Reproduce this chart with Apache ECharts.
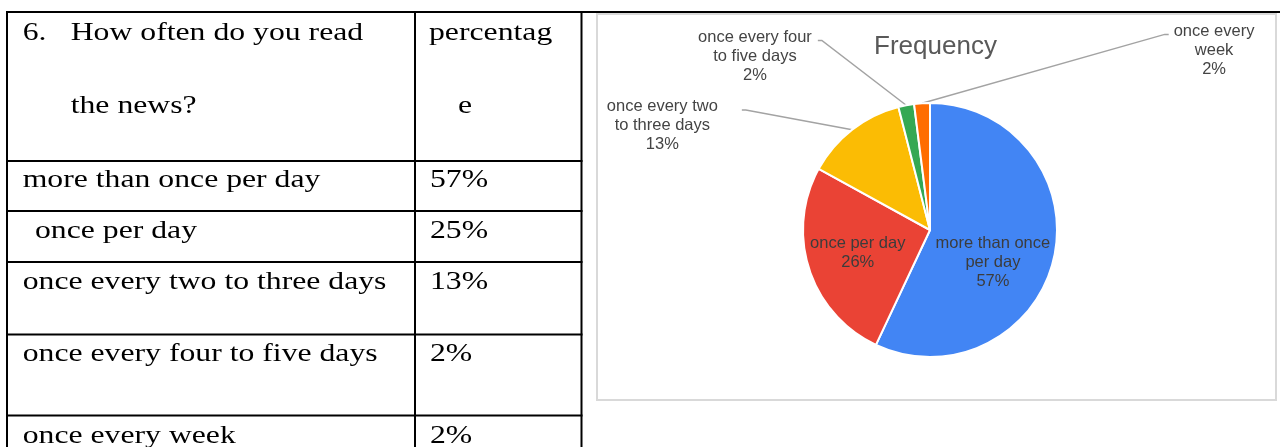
<!DOCTYPE html>
<html>
<head>
<meta charset="utf-8">
<script src="https://cdn.jsdelivr.net/npm/echarts@6/dist/echarts.min.js"></script>
<style>
  html, body { margin: 0; padding: 0; background: #fff; }
  #chart { width: 1280px; height: 447px; }
</style>
</head>
<body>
<div id="chart"></div>
<script>
// ---- data ----
const questionNumber = '6.';
const questionLines = ['How often do you read', 'the news?'];
const headerLines = ['percentag', 'e'];
const categories = [
  'more than once per day',
  'once per day',
  'once every two to three days',
  'once every four to five days',
  'once every week'
];
const tablePercents = ['57%', '25%', '13%', '2%', '2%'];
const chartTitle = 'Frequency';
const pieLabelNames = [
  'more than once\nper day',
  'once per day',
  'once every two\nto three days',
  'once every four\nto five days',
  'once every\nweek'
];
const pieValues = [57, 26, 13, 2, 2];

// ---- layout / style ----
const sliceColors = ['#4285F4', '#EA4335', '#FBBC04', '#34A853', '#FF6D01'];
const rowBaselines = [189, 240, 291, 363, 445];
const rowIndent = [22.7, 35, 22.7, 22.7, 22.7];
const hLines = [161, 211, 262, 334.5, 415.5];
const serifSize = 26, serifScaleX = 1.22;
const serifFont = serifSize + 'px "Liberation Serif", "Times New Roman", serif';
const midOff = 0.3375 * serifSize;

function tText(str, x, baseline) {
  return {
    type: 'text', x: x, y: baseline - midOff, scaleX: serifScaleX, z: 10,
    style: { text: str, font: serifFont, fill: '#000', verticalAlign: 'middle', align: 'left' }
  };
}
function bl(x1, y1, x2, y2) {
  return { type: 'line', z: 11, shape: { x1: x1, y1: y1, x2: x2, y2: y2 },
           style: { stroke: '#000', lineWidth: 2 } };
}

const elements = [];
// chart frame
elements.push({ type: 'rect', z: 0, shape: { x: 597, y: 14, width: 679, height: 386 },
                style: { fill: '#fff', stroke: '#d9d9d9', lineWidth: 2 } });
// table lines
elements.push(bl(6, 12, 1280, 12));
elements.push(bl(7, 12, 7, 447));
elements.push(bl(415, 12, 415, 447));
elements.push(bl(581.5, 12, 581.5, 447));
hLines.forEach(y => elements.push(bl(6, y, 582.5, y)));
// header texts
elements.push(tText(questionNumber, 22.7, 42.3));
elements.push(tText(questionLines[0], 70.7, 42.3));
elements.push(tText(questionLines[1], 70.7, 115));
elements.push(tText(headerLines[0], 429, 42.3));
elements.push(tText(headerLines[1], 458, 115));
categories.forEach((c, i) => {
  elements.push(tText(c, rowIndent[i], rowBaselines[i]));
  elements.push(tText(tablePercents[i], 430, rowBaselines[i]));
});

// per-slice label settings
const labelCfg = [
  { pos: 'inside', offset: [-2, 18] },
  { pos: 'inside', offset: [-9, 2] },
  { pos: 'outside', side: 'left', gap: 24, len: 25, len2: 95, lift: 3 },
  { pos: 'outside', side: 'left', gap: 6, len: 66, len2: 76, lift: 3 },
  { pos: 'outside', side: 'right', gap: 5, len: 69, len2: 251, lift: 2.5 }
];

const sansFont = '"Liberation Sans", Arial, Helvetica, sans-serif';

const pieData = categories.map((c, i) => {
  const cfg = labelCfg[i];
  const item = { name: c, value: pieValues[i], itemStyle: { color: sliceColors[i] } };
  if (cfg.pos === 'inside') {
    item.label = { position: 'inside', offset: cfg.offset, color: '#3c3c3c' };
  } else {
    item.label = { position: 'outside', color: '#444' };
    item.labelLine = { show: true, length: cfg.len, length2: cfg.len2 };
  }
  return item;
});

const chart = echarts.init(document.getElementById('chart'), null, { renderer: 'canvas' });
chart.setOption({
  backgroundColor: '#fff',
  animation: false,
  title: {
    text: chartTitle, left: 930.5, top: 29, textAlign: 'center',
    textStyle: { fontFamily: sansFont, fontSize: 26, fontWeight: 'normal', color: '#595959' }
  },
  graphic: { elements: elements },
  series: [{
    type: 'pie',
    center: [930, 230],
    radius: 127,
    startAngle: 90,
    clockwise: true,
    avoidLabelOverlap: false,
    silent: true,
    itemStyle: { borderColor: '#fff', borderWidth: 2 },
    label: {
      fontFamily: sansFont, fontSize: 16.5, lineHeight: 19, align: 'center',
      formatter: p => pieLabelNames[p.dataIndex] + '\n' + Math.round(p.percent) + '%'
    },
    labelLine: { lineStyle: { color: '#a3a3a3', width: 1.5 }, smooth: false },
    labelLayout: function (p) {
      const cfg = labelCfg[p.dataIndex];
      if (!cfg || cfg.pos !== 'outside' || !p.labelLinePoints) return {};
      const pts = p.labelLinePoints;
      const p0 = pts[0], p1 = pts[1], p2 = pts[2];
      let end = [p2[0], p2[1]];
      if (cfg.side === 'right' && p2[0] < p1[0]) end = [2 * p1[0] - p2[0], p2[1]];
      if (cfg.side === 'left' && p2[0] > p1[0]) end = [2 * p1[0] - p2[0], p2[1]];
      const stub = cfg.side === 'right' ? [end[0] - 4, end[1]] : [end[0] + 4, end[1]];
      const w = p.labelRect.width;
      const cx = cfg.side === 'right' ? end[0] + cfg.gap + w / 2 : end[0] - cfg.gap - w / 2;
      return {
        x: cx, y: end[1] - 9.5 - cfg.lift, align: 'center', verticalAlign: 'top',
        labelLinePoints: [p0, stub, end]
      };
    },
    data: pieData
  }]
});
</script>
</body>
</html>
